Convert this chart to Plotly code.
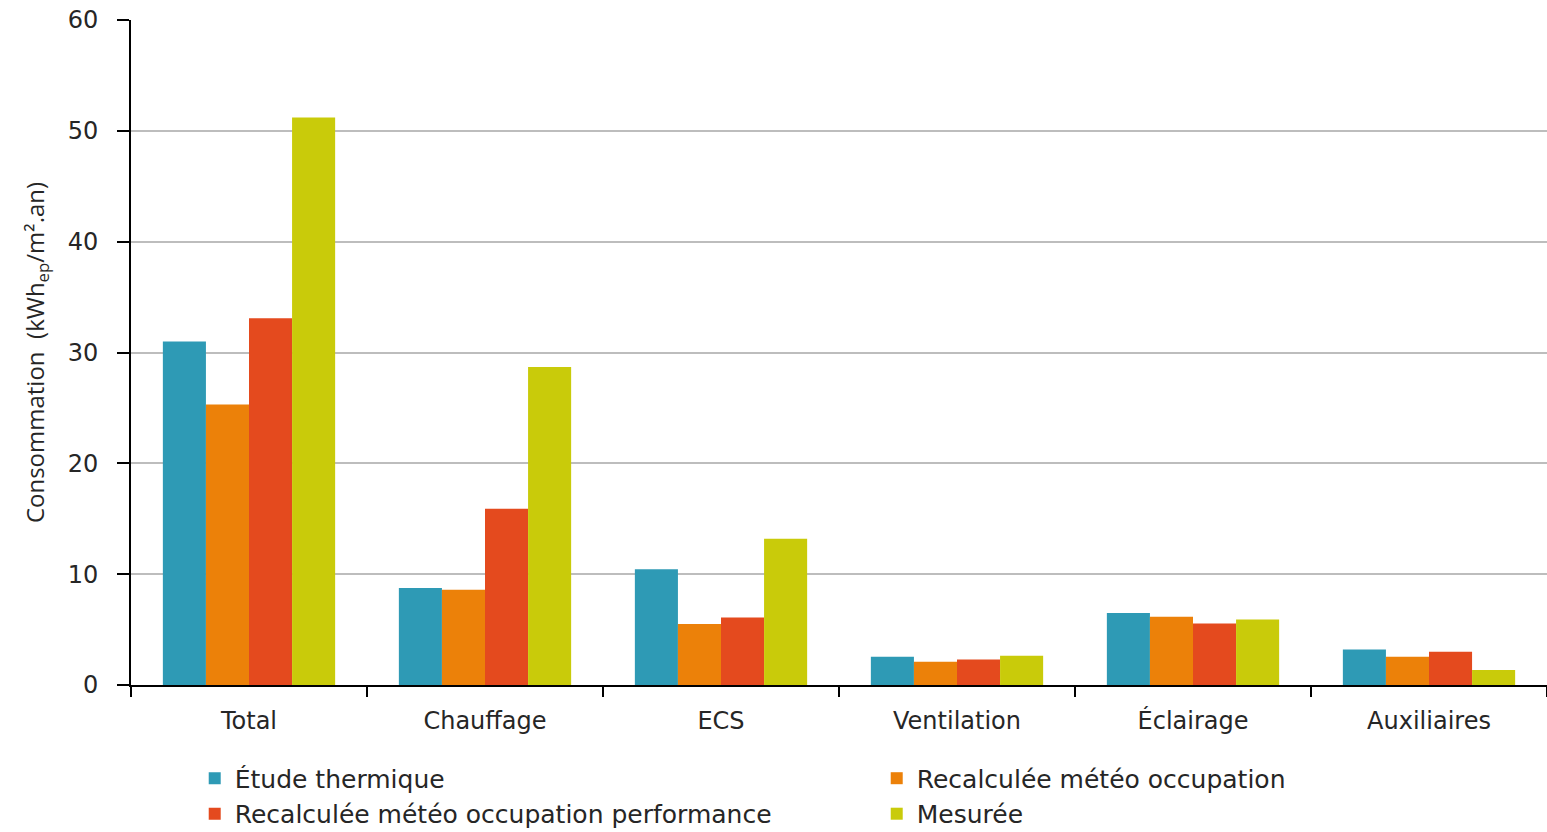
import plotly.graph_objects as go

categories = ["Total", "Chauffage", "ECS", "Ventilation", "Éclairage", "Auxiliaires"]
etude = [31.0, 8.75, 10.45, 2.55, 6.5, 3.2]
recalc = [25.3, 8.6, 5.5, 2.1, 6.15, 2.55]
recalc_perf = [33.1, 15.9, 6.1, 2.3, 5.55, 3.0]
mesuree = [51.2, 28.7, 13.2, 2.65, 5.9, 1.35]

series_names = ["Étude thermique", "Recalculée météo occupation",
                "Recalculée météo occupation performance", "Mesurée"]
series_values = [etude, recalc, recalc_perf, mesuree]
colors = ["#2E9AB5", "#EC8109", "#E44A1E", "#C9CB0A"]
y_ticks = [0, 10, 20, 30, 40, 50, 60]

FONT = "DejaVu Sans"
fig = go.Figure()
for name, vals, col in zip(series_names, series_values, colors):
    fig.add_trace(go.Bar(x=categories, y=vals, name=name, marker_color=col,
                         marker_line_width=0))

fig.update_layout(
    width=1547, height=832,
    margin=dict(l=131, r=0, t=20, b=147, autoexpand=False),
    paper_bgcolor="white", plot_bgcolor="white",
    barmode="group", bargap=0.27, bargroupgap=0,
    font=dict(family=FONT, size=22, color="#262626"),
    legend=dict(orientation="h", x=0.045, xanchor="left",
                yref="container", y=0.092, yanchor="top",
                entrywidth=637, entrywidthmode="pixels",
                font=dict(family=FONT, size=25, color="#262626"),
                tracegroupgap=0, traceorder="normal"),
    showlegend=True,
)
fig.update_xaxes(
    showline=True, linecolor="black", linewidth=2,
    ticks="outside", tickson="boundaries", ticklen=10, tickcolor="black", tickwidth=2,
    ticklabelstandoff=13,
    tickfont=dict(family=FONT, size=24, color="#262626"),
    showgrid=False,
)
fig.update_yaxes(
    range=[0, 60], tickvals=y_ticks,
    showline=True, linecolor="black", linewidth=2,
    ticks="outside", ticklen=12, tickcolor="black", tickwidth=2,
    ticklabelstandoff=14,
    tickfont=dict(family=FONT, size=24, color="#262626"),
    showgrid=True, gridcolor="#BDBDBD", gridwidth=2,
    zeroline=False,
    title=dict(text="Consommation  (kWh<sub>ep</sub>/m².an)",
               font=dict(family="Open Sans", size=24, color="#262626"), standoff=16),
)

fig.write_html("out.html")
